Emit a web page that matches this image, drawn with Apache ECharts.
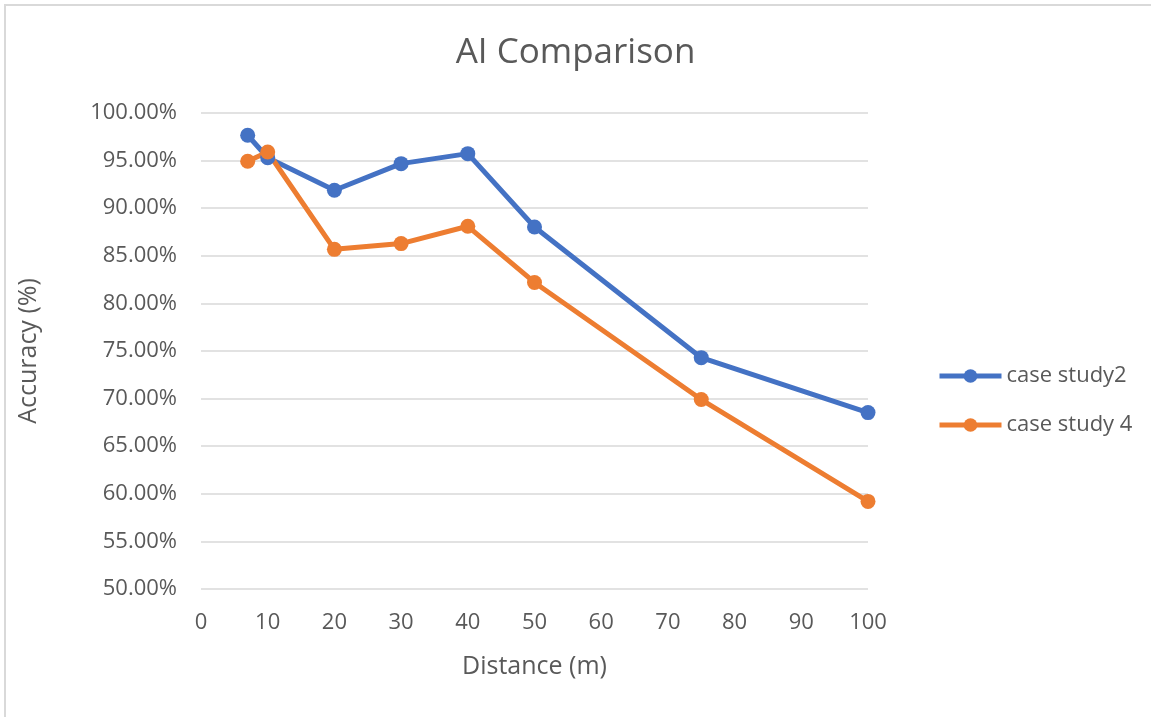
<!DOCTYPE html>
<html>
<head>
<meta charset="utf-8">
<script src="https://cdn.jsdelivr.net/npm/echarts@6/dist/echarts.min.js"></script>
<style>
  html, body { margin: 0; padding: 0; background: #fff; }
  #chart { width: 1151px; height: 717px; }
</style>
</head>
<body>
<div id="chart"></div>
<script>
// distances (m)
const distances = [7, 10, 20, 30, 40, 50, 75, 100];
// accuracy in percent
const caseStudy2 = [97.66, 95.3, 91.88, 94.68, 95.73, 88.03, 74.3, 68.53];
const caseStudy4 = [94.93, 95.9, 85.68, 86.28, 88.1, 82.2, 69.9, 59.2];
const seriesNames = ['case study2', 'case study 4'];

const textColor = '#595959';
const font = 'Open Sans';

const chart = echarts.init(document.getElementById('chart'));

const toPairs = (vals) => distances.map((d, i) => [d, vals[i]]);

const option = {
  backgroundColor: '#fff',
  animation: false,
  title: {
    text: 'AI Comparison',
    left: 'center',
    top: 31,
    textStyle: { color: textColor, fontFamily: font, fontSize: 35, fontWeight: 'normal' }
  },
  graphic: [{
    type: 'rect',
    shape: { x: 5, y: 5, width: 1200, height: 800 },
    style: { fill: 'none', stroke: '#d9d9d9', lineWidth: 2 },
    silent: true
  }],
  legend: {
    orient: 'vertical',
    left: 932,
    top: 360,
    itemGap: 27,
    itemWidth: 62,
    itemHeight: 17,
    lineStyle: { width: 5 },
    textStyle: { color: textColor, fontFamily: font, fontSize: 22 },
    data: seriesNames
  },
  grid: { left: 201, right: 283, top: 113, bottom: 128 },
  xAxis: {
    type: 'value',
    min: 0,
    max: 100,
    interval: 10,
    name: 'Distance (m)',
    nameLocation: 'middle',
    nameGap: 65,
    nameTextStyle: { color: textColor, fontFamily: font, fontSize: 25 },
    axisLine: { show: false },
    axisTick: { show: false },
    splitLine: { show: false },
    axisLabel: { color: textColor, fontFamily: font, fontSize: 22, margin: 23 }
  },
  yAxis: {
    type: 'value',
    min: 50,
    max: 100,
    interval: 5,
    name: 'Accuracy (%)',
    nameLocation: 'middle',
    nameGap: 160,
    nameTextStyle: { color: textColor, fontFamily: font, fontSize: 25 },
    axisLine: { show: false },
    axisTick: { show: false },
    splitLine: { lineStyle: { color: '#d9d9d9', width: 1.5 } },
    axisLabel: {
      color: textColor, fontFamily: font, fontSize: 22, margin: 24,
      formatter: (v) => v.toFixed(2) + '%'
    }
  },
  series: [
    {
      name: seriesNames[0],
      type: 'line',
      data: toPairs(caseStudy2),
      symbol: 'circle',
      symbolSize: 15,
      lineStyle: { width: 5, color: '#4472c4' },
      itemStyle: { color: '#4472c4' }
    },
    {
      name: seriesNames[1],
      type: 'line',
      data: toPairs(caseStudy4),
      symbol: 'circle',
      symbolSize: 15,
      lineStyle: { width: 5, color: '#ed7d31' },
      itemStyle: { color: '#ed7d31' }
    }
  ]
};

chart.setOption(option);
</script>
</body>
</html>
